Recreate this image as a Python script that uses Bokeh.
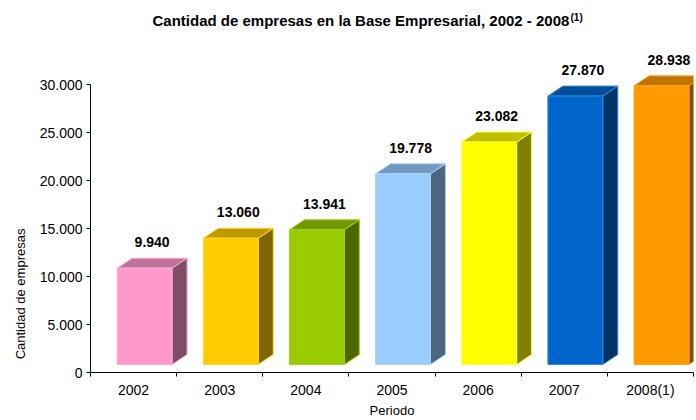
from bokeh.plotting import figure
from bokeh.models import FixedTicker, LinearAxis, Label, Range1d, ColumnDataSource
from bokeh.embed import file_html
from bokeh.resources import INLINE
from bokeh.core.properties import value
import math

# ---- data ----
periods = ["2002", "2003", "2004", "2005", "2006", "2007", "2008(1)"]
companies = [9940, 13060, 13941, 19778, 23082, 27870, 28938]
value_labels = ["9.940", "13.060", "13.941", "19.778", "23.082", "27.870", "28.938"]
front_colors = ["#FF99CC", "#FFCC00", "#99CC00", "#99CCFF", "#FFFF00", "#0066CC", "#FF9900"]
top_colors = ["#BF7399", "#BF9900", "#739900", "#7399BF", "#BFBF00", "#004D99", "#BF7300"]
side_colors = ["#804D66", "#806600", "#4D6600", "#4D6680", "#808000", "#003366", "#804D00"]
edge_colors = ["#FFA8D4", "#FFD633", "#A3D11A", "#A8D4FF", "#FFFF33", "#3385D6", "#FFA31A"]
y_ticks = [0, 5000, 10000, 15000, 20000, 25000, 30000]
y_tick_labels = ["0", "5.000", "10.000", "15.000", "20.000", "25.000", "30.000"]
y_title = "Cantidad de empresas"
x_title = "Periodo"
title = "Cantidad de empresas en la Base Empresarial, 2002 - 2008"
title_note = "(1)"

FONT = "Liberation Sans"

# ---- 3D bar geometry (style constants) ----
face_left = 0.31      # offset of front face within a category
face_width = 0.637
depth_x = 0.174       # depth offset in category units
depth_y = 1040        # depth offset in value units
base_bottom = 830     # front face bottom (floor drawn in perspective)
base_top = 935

p = figure(width=696, height=420, output_backend="svg", toolbar_location=None,
           x_range=Range1d(0, 7), y_range=Range1d(0, 38765),
           min_border_left=90, min_border_right=3, min_border_top=0,
           min_border_bottom=47)
p.background_fill_color = "white"
p.border_fill_color = "white"
p.outline_line_color = None
p.xgrid.visible = False
p.ygrid.visible = False

front = dict(left=[], right=[], bottom=[], top=[], color=[], line=[])
tops = dict(xs=[], ys=[], color=[], line=[])
sides = dict(xs=[], ys=[], color=[], line=[])
lab = dict(x=[], y=[], text=[])
for i, v in enumerate(companies):
    l = i + face_left
    r = l + face_width
    b = base_bottom
    t = base_top + v
    front["left"].append(l); front["right"].append(r)
    front["bottom"].append(b); front["top"].append(t)
    front["color"].append(front_colors[i]); front["line"].append(edge_colors[i])
    tops["xs"].append([l, l + depth_x, r + depth_x, r])
    tops["ys"].append([t, t + depth_y, t + depth_y, t])
    tops["color"].append(top_colors[i]); tops["line"].append(edge_colors[i])
    sides["xs"].append([r, r + depth_x, r + depth_x, r])
    sides["ys"].append([b, b + depth_y, t + depth_y, t])
    sides["color"].append(side_colors[i]); sides["line"].append(edge_colors[i])
    lab["x"].append(l + (face_width + depth_x) / 2)
    lab["y"].append(t + depth_y + 1680)
    lab["text"].append(value_labels[i])

p.patches("xs", "ys", fill_color="color", line_color="line", line_width=1,
          source=ColumnDataSource(sides))
p.patches("xs", "ys", fill_color="color", line_color="line", line_width=1,
          source=ColumnDataSource(tops))
p.quad(left="left", right="right", bottom="bottom", top="top",
       fill_color="color", line_color="line", line_width=1,
       source=ColumnDataSource(front))
p.text("x", "y", text="text", source=ColumnDataSource(lab),
       text_font=value(FONT), text_font_size="14px", text_font_style="bold",
       text_align="center", text_baseline="middle", text_color="black")

# ---- y axis ----
ya = p.yaxis[0]
ya.ticker = FixedTicker(ticks=y_ticks)
ya.major_label_overrides = {t: s for t, s in zip(y_ticks, y_tick_labels)}
ya.bounds = (0, 30000)
ya.minor_tick_line_color = None
ya.major_tick_in = 0
ya.major_tick_out = 4
ya.major_label_standoff = 4
ya.major_label_text_font = FONT
ya.major_label_text_font_size = "14px"
ya.major_label_text_color = "black"
ya.axis_line_color = "black"
ya.major_tick_line_color = "black"

# ---- y axis title (as a single tick label on an outer axis) ----
ya2 = LinearAxis(ticker=FixedTicker(ticks=[15000]),
                 major_label_overrides={15000: y_title},
                 major_label_orientation=math.pi / 2,
                 axis_line_color=None, major_tick_line_color=None,
                 minor_tick_line_color=None, major_tick_in=0, major_tick_out=0,
                 major_label_standoff=16,
                 major_label_text_font=FONT, major_label_text_font_size="13px",
                 major_label_text_color="black")
p.add_layout(ya2, "left")

# ---- x axis: labels at centers, minor ticks at category boundaries ----
centers = [i + 0.5 for i in range(len(periods))]
bounds_ticks = list(range(len(periods) + 1))
xa = p.xaxis[0]
xa.ticker = FixedTicker(ticks=centers, minor_ticks=bounds_ticks)
xa.major_label_overrides = {c: s for c, s in zip(centers, periods)}
xa.major_tick_line_color = None
xa.major_tick_in = 0
xa.major_tick_out = 4
xa.minor_tick_line_color = "black"
xa.minor_tick_in = 0
xa.minor_tick_out = 4
xa.major_label_standoff = 5
xa.major_label_text_font = FONT
xa.major_label_text_font_size = "14px"
xa.major_label_text_color = "black"
xa.axis_line_color = "black"
xa.axis_label = x_title
xa.axis_label_text_font = FONT
xa.axis_label_text_font_size = "13px"
xa.axis_label_text_font_style = "normal"
xa.axis_label_text_color = "black"
xa.axis_label_standoff = 2

# ---- chart title ----
p.add_layout(Label(x=62, y=352, x_units="screen", y_units="screen",
                   text=title,
                   text_font=FONT, text_font_size="15px", text_font_style="bold",
                   text_color="black", text_align="left", text_baseline="middle"))
p.add_layout(Label(x=480, y=355, x_units="screen", y_units="screen",
                   text=title_note,
                   text_font=FONT, text_font_size="10px", text_font_style="bold",
                   text_color="black", text_align="left", text_baseline="middle"))

open("out.html", "w").write(file_html(p, INLINE))
